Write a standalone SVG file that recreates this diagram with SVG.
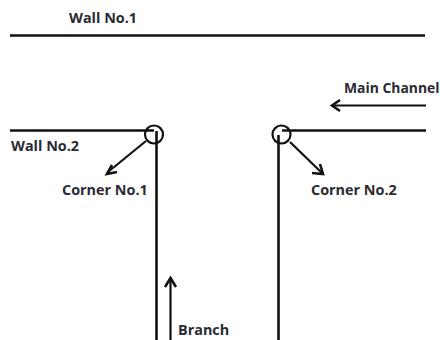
<svg xmlns="http://www.w3.org/2000/svg" width="440" height="340" viewBox="0 0 440 340">
<style>
.w{stroke:#111;stroke-width:2.6;fill:none}
.a{stroke:#111;stroke-width:2.2;fill:none}
.h{stroke:#111;stroke-width:2.6;fill:none}
text{font-family:"Open Sans","Liberation Sans",sans-serif;font-weight:700;font-size:14.4px;fill:#2a2a33}
</style>
<rect width="440" height="340" fill="#fff"/>
<g id="connectors">
<path class="w" d="M10 35.500H425"/>
<path class="w" d="M10 130.500H154"/>
<path class="w" d="M156.500 131V340"/>
<path class="w" d="M282 130.500H426"/>
<path class="w" d="M278.500 135V340"/>
<path class="a" d="M146 141L108 172"/>
<path class="h" d="M117 172L107 174L112 165"/>
<path class="a" d="M290 142L322 173"/>
<path class="h" d="M312 173L323 174L320 164"/>
<path class="a" d="M426 105.500H333"/>
<path class="h" d="M340 100L332 105.500L340 111"/>
<path class="a" d="M170.500 340V279"/>
<path class="h" d="M165 287L170.500 278L176 287"/>
</g>
<g id="corner1"><circle class="a" cx="154" cy="134.500" r="9"/></g>
<g id="corner2"><circle class="a" cx="281.500" cy="134.500" r="9"/></g>
<g id="wall1"><text x="69" y="23">Wall No.1</text></g>
<g id="wall2"><text x="11" y="151">Wall No.2</text></g>
<g id="label-corner1"><text x="62" y="195">Corner No.1</text></g>
<g id="label-corner2"><text x="311" y="195">Corner No.2</text></g>
<g id="label-main"><text x="344" y="93" style="font-size:13.9px">Main Channel</text></g>
<g id="label-branch"><text x="178" y="335">Branch</text></g>
</svg>
